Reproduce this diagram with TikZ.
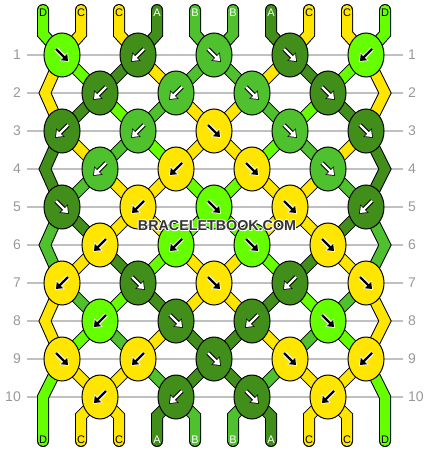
\documentclass[tikz,border=0pt]{standalone}
\usepackage{fontspec}
\setmainfont{Liberation Sans}
\usepackage{tikz}
\usetikzlibrary{shapes.geometric, arrows.meta, backgrounds}

\definecolor{thA}{HTML}{418E1B}
\definecolor{thB}{HTML}{4FC12E}
\definecolor{thC}{HTML}{FFE600}
\definecolor{thD}{HTML}{66FF00}
\colorlet{fgA}{white}\colorlet{fgB}{white}\colorlet{fgC}{black}\colorlet{fgD}{black}
\colorlet{bgA}{black}\colorlet{bgB}{black}\colorlet{bgC}{white}\colorlet{bgD}{white}
\definecolor{lblgray}{HTML}{999999}
\definecolor{gridgray}{HTML}{C0C0C0}
\definecolor{wmgray}{HTML}{333333}

\tikzset{
  knot/.style={ellipse, draw=black, line width=1pt, fill=th#1, minimum width=36pt, minimum height=44pt, inner sep=0pt},
  th/.style={draw=black, line width=1pt, double=th#1, double distance=10pt},
  tharrow/.style={draw=fg#1, line width=2.4pt, -{Triangle[length=5.5pt,width=8.5pt]}},
  thhalo/.style={draw=bg#1, line width=4.4pt, shorten >=-1.2pt, -{Triangle[length=7.5pt,width=11.5pt]}},
  thlabel/.style={text=fg#1, font=\fontsize{11}{11}\selectfont, inner sep=0pt},
  rowlbl/.style={text=lblgray, font=\fontsize{14}{14}\selectfont, inner sep=0pt},
  gridline/.style={draw=gridgray, line width=1.2pt},
  wm/.style={font=\bfseries\fontsize{14.3}{14.3}\selectfont, inner sep=0pt}
}

\begin{document}
\begin{tikzpicture}[x=1pt,y=-1pt]
\useasboundingbox (0,0) rectangle (430,452);

% row numbers
\foreach \r in {1,...,10} {
  \node[rowlbl, anchor=east] (lft\r) at (21,55+38*\r-38) {\r};
  \node[rowlbl, anchor=west] (rgt\r) at (408,55+38*\r-38) {\r};
}

% knots: colour/direction (1 = forward, -1 = backward)
\foreach \r/\seq in {1/{D/1,A/-1,B/1,A/1,D/-1},
                     2/{A/-1,B/-1,B/1,A/1},
                     3/{A/-1,B/-1,C/1,B/1,A/1},
                     4/{B/-1,C/-1,C/1,B/1},
                     5/{A/1,C/-1,D/1,C/1,A/-1},
                     6/{C/-1,D/-1,D/1,C/1},
                     7/{C/-1,A/1,C/1,A/-1,C/1},
                     8/{D/-1,A/1,A/-1,D/1},
                     9/{C/1,C/-1,A/1,C/1,C/-1},
                     10/{C/-1,A/-1,A/1,C/-1}} {
  \foreach \t/\d [count=\c] in \seq {
    \pgfmathsetmacro\x{mod(\r,2)==1 ? 62+76*(\c-1) : 100+76*(\c-1)}
    \pgfmathsetmacro\y{55+38*(\r-1)}
    \node[knot=\t] (k\r-\c) at (\x,\y) {};
    \draw[thhalo=\t] (\x-6*\d,\y-6) -- (\x+6*\d,\y+6);
    \draw[tharrow=\t] (\x-6*\d,\y-6) -- (\x+6*\d,\y+6);
  }
}

% watermark
\foreach \dx/\dy in {-1/0,1/0,0/-1,0/1,1/1}
  \node[wm, text=white] at (217+\dx,225.5+\dy) {BRACELETBOOK.COM};
\node[wm, text=wmgray] (wm) at (217,225.5) {BRACELETBOOK.COM};

\begin{scope}[on background layer]
% row lines
\foreach \r in {1,...,10}
  \draw[gridline, shorten <=6pt, shorten >=5pt] (lft\r.east) -- (rgt\r.west);

% threads between knots
\foreach \r/\seq in {1/{D,A,C,B,B,C,A,D},
                     2/{A,D,B,C,C,B,D,A},
                     3/{C,B,D,C,C,D,B,C},
                     4/{B,C,C,D,D,C,C,B},
                     5/{A,C,C,D,D,C,C,A},
                     6/{C,A,D,C,C,D,A,C},
                     7/{B,D,A,C,C,A,D,B},
                     8/{D,B,C,A,A,C,B,D},
                     9/{C,C,B,A,A,B,C,C}} {
  \pgfmathtruncatemacro\rn{\r+1}
  \foreach \t [count=\p] in \seq {
    \pgfmathtruncatemacro\ca{mod(\r,2)==1 ? int(\p/2)+1 : int((\p-1)/2)+1}
    \pgfmathtruncatemacro\cb{mod(\r,2)==1 ? int((\p-1)/2)+1 : int(\p/2)+1}
    \draw[th=\t] (k\r-\ca.center) -- (k\rn-\cb.center);
  }
}

% threads round the edges
\foreach \r/\tl/\tr in {2/C/C,4/A/A,6/B/B,8/C/C} {
  \pgfmathtruncatemacro\ru{\r-1}
  \pgfmathtruncatemacro\rd{\r+1}
  \draw[th=\tl] (k\ru-1.center) -- (45,55+38*\r-38) -- (k\rd-1.center);
  \draw[th=\tr] (k\ru-5.center) -- (385,55+38*\r-38) -- (k\rd-5.center);
}

% loose ends, top
\foreach \t [count=\i from 0] in {D,C,C,A,B,B,A,C,C,D} {
  \pgfmathtruncatemacro\c{int(\i/2)+1}
  \draw[th=\t, line cap=round] (43+38*\i,10) -- (43+38*\i,34) -- (k1-\c.center);
  \node[thlabel=\t] (top\i) at (43+38*\i,12.5) {\t};
}

% loose ends, bottom
\foreach \t [count=\i from 1] in {C,C,A,B,B,A,C,C} {
  \pgfmathtruncatemacro\c{int((\i-1)/2)+1}
  \draw[th=\t, line cap=round] (k10-\c.center) -- (43+38*\i,416) -- (43+38*\i,441);
  \node[thlabel=\t] (bot\i) at (43+38*\i,440) {\t};
}
\draw[th=D, line cap=round] (k9-1.center) -- (43,397) -- (43,441);
\draw[th=D, line cap=round] (k9-5.center) -- (385,397) -- (385,441);
\node[thlabel=D] (bot0) at (43,440) {D};
\node[thlabel=D] (bot9) at (385,440) {D};
\end{scope}
\end{tikzpicture}
\end{document}
